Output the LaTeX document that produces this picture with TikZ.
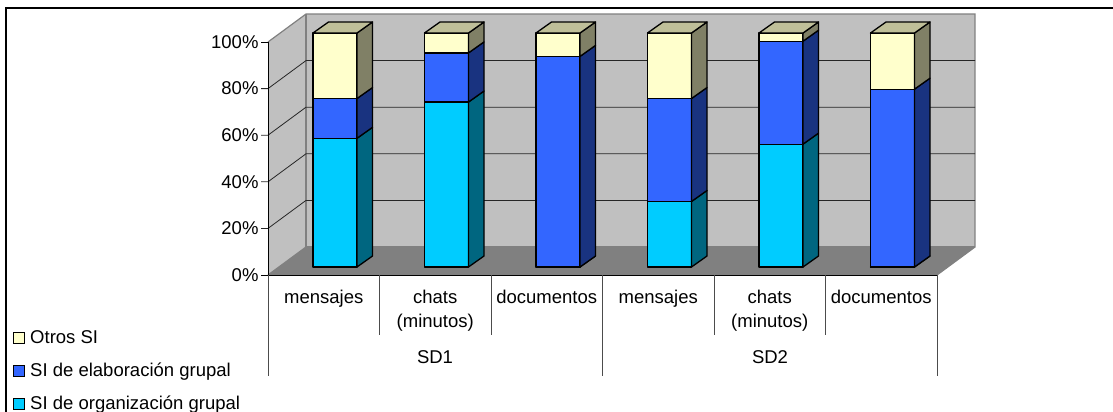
\documentclass[tikz,border=0pt]{standalone}
\usepackage{fontspec}
\setsansfont{Liberation Sans}
\definecolor{otros}{HTML}{FFFFCC}
\definecolor{elab}{HTML}{3366FF}
\definecolor{org}{HTML}{00CCFF}
\definecolor{wall}{HTML}{C0C0C0}
\definecolor{floorc}{HTML}{808080}
\begin{document}
\begin{tikzpicture}[x=1pt,y=-1pt,font=\sffamily\fontsize{18.5}{24}\selectfont,
	edge/.style={draw=floorc,line width=1.2pt},
	grid/.style={draw=black!85,line width=0.8pt},
	axis/.style={draw=black,line width=0.9pt},
	divline/.style={draw=black!70,line width=0.9pt},
	barline/.style={draw=black,line width=1.3pt,line join=round},
	lab/.style={anchor=base,align=center},
	ylab/.style={anchor=east},
	key/.style={draw=black,line width=0.8pt,minimum size=11pt,inner sep=0pt},
	keytext/.style={anchor=base west}]
	\useasboundingbox (0,0) rectangle (1113,412);
	\draw[line width=1.4pt] (1113,8) -- (6,8) -- (6,412);
	% walls and floor
	\fill[wall] (268,275) -- (268,42) -- (306,14) -- (306,247) -- cycle;
	\fill[wall] (306,14) rectangle (975,247);
	\fill[floorc] (268,275) -- (306,247) -- (975,247) -- (937,275) -- cycle;
	\draw[edge] (268,42) -- (306,14) -- (975,14) -- (975,247) -- (937,275);
	\draw[edge] (306,14) -- (306,247) -- (975,247);
	\draw[edge] (268,275) -- (306,247);
	\foreach \v in {20,40,60,80}
		\draw[grid] (261,{275-2.33*\v}) -- (268,{275-2.33*\v}) -- (306,{247-2.33*\v}) -- (975,{247-2.33*\v});
	\foreach \v in {0,100}
		\draw[axis] (261,{275-2.33*\v}) -- (268,{275-2.33*\v});
	\draw[axis] (268,42) -- (268,275) -- (937,275);
	\foreach \v in {0,20,...,100}
		\node[ylab] (y\v) at (262,{275-2.33*\v}) {\v\%};
	% bars
	\foreach \k/\a/\b in {1/55/72,2/70.5/91.5,3/0/90,4/28/72,5/52.5/96.5,6/0/76} {
		\pgfmathsetmacro\L{313+111.5*(\k-1)}
		\foreach \lo/\hi/\c in {0/\a/org,\a/\b/elab,\b/100/otros} {
			\draw[barline,fill=\c] (\L,{267-2.34*\lo}) rectangle ({\L+44},{267-2.34*\hi});
			\draw[barline,fill=\c!50!black] ({\L+44},{267-2.34*\lo}) -- ++(15.5,-11)
				-- ({\L+59.5},{256-2.34*\hi}) -- ({\L+44},{267-2.34*\hi}) -- cycle;
		}
		\draw[barline,fill=otros!75!black] (\L,33) -- ++(15.5,-11) -- ++(44,0) -- ++(-15.5,11) -- cycle;
	}
	% category axis
	\foreach \k/\e in {0/376,1/335,2/335,3/376,4/335,5/335,6/376}
		\draw[divline] ({268+111.5*\k},275) -- ({268+111.5*\k},\e);
	\foreach \k/\t/\y in {1/mensajes/303,2/{chats\\(minutos)}/327,3/documentos/303,4/mensajes/303,5/{chats\\(minutos)}/327,6/documentos/303}
		\node[lab] (c\k) at ({268+111.5*(\k-0.5)},\y) {\t};
	\node[lab] (sd1) at (435,363) {SD1};
	\node[lab] (sd2) at (770,363) {SD2};
	% legend
	\foreach \i/\c/\t in {1/otros/Otros SI,2/elab/SI de elaboración grupal,3/org/SI de organización grupal} {
		\node[key,fill=\c] (k\i) at (18.5,{304.5+33*\i}) {};
		\node[keytext] (t\i) at (26.7,{310+33*\i}) {\t};
	}
\end{tikzpicture}
\end{document}
